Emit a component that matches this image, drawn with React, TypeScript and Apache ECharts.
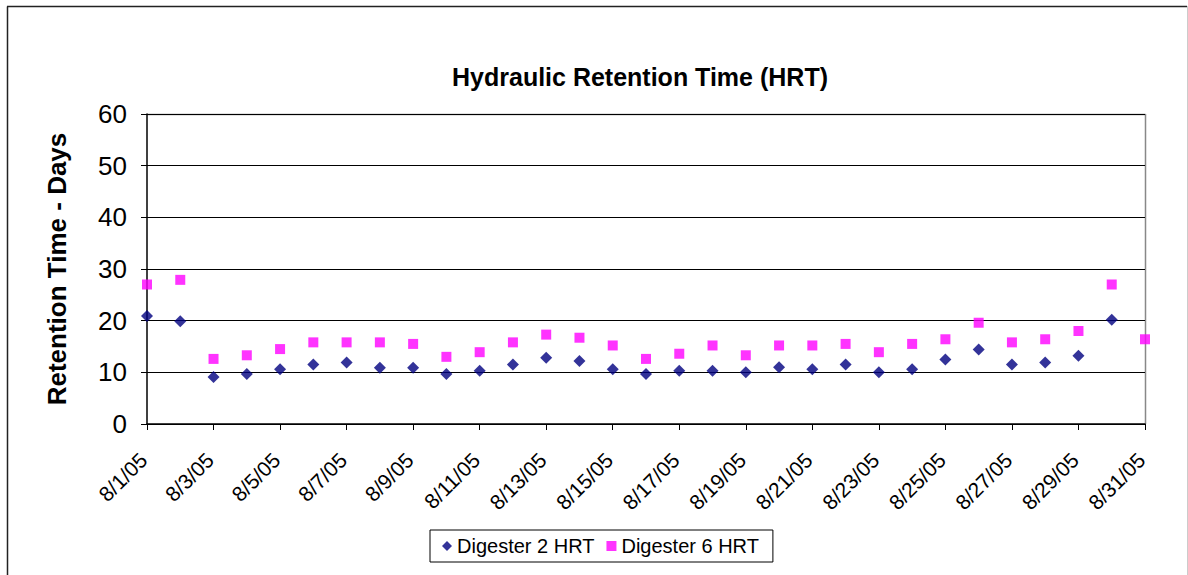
import React, { useEffect, useRef } from "react";
import * as echarts from "echarts";

const dates = Array.from({ length: 31 }, (_, i) => `8/${i + 1}/05`);
const digester2: (number | null)[] = [
  20.9, 19.9, 9.1, 9.7, 10.6, 11.5, 11.9, 10.9, 10.9, 9.7,
  10.3, 11.5, 12.8, 12.2, 10.6, 9.7, 10.3, 10.3, 10.0, 11.0,
  10.6, 11.5, 10.0, 10.6, 12.5, 14.4, 11.5, 11.9, 13.2, 20.2, null,
];
const digester6: (number | null)[] = [
  27.0, 27.9, 12.6, 13.3, 14.5, 15.8, 15.8, 15.8, 15.5, 13.0,
  13.9, 15.8, 17.3, 16.7, 15.2, 12.6, 13.6, 15.2, 13.3, 15.2,
  15.2, 15.5, 13.9, 15.5, 16.4, 19.6, 15.8, 16.4, 18.0, 27.0, 16.4,
];

export default function App() {
  const ref = useRef<HTMLDivElement>(null);
  useEffect(() => {
    if (!ref.current) return;
    const chart = echarts.init(ref.current, null, { renderer: "svg" });
    const font = "Arial, 'Liberation Sans', sans-serif";
    chart.setOption({
      animation: false,
      backgroundColor: "#fff",
      textStyle: { fontFamily: font },
      title: {
        text: "Hydraulic Retention Time (HRT)",
        left: 635,
        textAlign: "center",
        top: 59,
        textStyle: { fontSize: 25, fontWeight: "bold", color: "#000", fontFamily: font },
      },
      graphic: [
        { type: "line", shape: { x1: 7.5, y1: 6.5, x2: 7.5, y2: 600 }, style: { stroke: "#222", lineWidth: 1.5 } },
        { type: "line", shape: { x1: 7, y1: 6.5, x2: 1187, y2: 6.5 }, style: { stroke: "#222", lineWidth: 1.5 } },
        { type: "line", shape: { x1: 1187.5, y1: 6, x2: 1187.5, y2: 600 }, style: { stroke: "#ccc", lineWidth: 1 } },
        { type: "line", shape: { x1: 147, y1: 114.5, x2: 1145.5, y2: 114.5 }, style: { stroke: "#888", lineWidth: 1.5 } },
        { type: "line", shape: { x1: 1145.5, y1: 114, x2: 1145.5, y2: 424 }, style: { stroke: "#888", lineWidth: 1.5 } },
      ],
      legend: {
        left: 430,
        top: 530,
        orient: "horizontal",
        padding: [6, 14, 6, 12],
        borderColor: "#000",
        borderWidth: 1,
        itemWidth: 10,
        itemHeight: 10,
        itemGap: 12,
        textStyle: { fontSize: 20, color: "#000", fontFamily: font },
        data: ["Digester 2 HRT", "Digester 6 HRT"],
      },
      grid: { left: 147, right: 43, top: 114, bottom: 151, containLabel: false },
      xAxis: {
        type: "category",
        data: dates,
        boundaryGap: false,
        axisLine: { lineStyle: { color: "#000", width: 1.5 } },
        axisTick: { show: true, interval: 1, length: 6, lineStyle: { color: "#000" } },
        axisLabel: {
          interval: 1,
          rotate: 45,
          fontSize: 21,
          color: "#000",
          margin: 29,
          padding: [0, 5, 0, 0],
          fontFamily: font,
        },
        splitLine: { show: false },
      },
      yAxis: {
        type: "value",
        min: 0,
        max: 60,
        interval: 10,
        name: "Retention Time - Days",
        nameLocation: "middle",
        nameGap: 77,
        nameTextStyle: { fontSize: 26, fontWeight: "bold", color: "#000", fontFamily: font },
        axisLine: { show: true, lineStyle: { color: "#000", width: 1.5 } },
        axisTick: { show: true, length: 6, lineStyle: { color: "#000" } },
        axisLabel: {
          fontSize: 26,
          color: "#000",
          margin: 20,
          fontFamily: font,
        },
        splitLine: { show: true, lineStyle: { color: "#000", width: 1 } },
      },
      series: [
        {
          name: "Digester 2 HRT",
          type: "scatter",
          data: digester2,
          symbol: "diamond",
          symbolSize: 12,
          itemStyle: { color: "#000080" },
          z: 3,
        },
        {
          name: "Digester 6 HRT",
          type: "scatter",
          data: digester6,
          symbol: "rect",
          symbolSize: 10,
          itemStyle: { color: "#FF00FF" },
          z: 3,
        },
      ],
    });
    return () => chart.dispose();
  }, []);
  return (
    <div
      ref={ref}
      style={{ position: "absolute", left: 0, top: 0, width: 1188, height: 575 }}
    />
  );
}
